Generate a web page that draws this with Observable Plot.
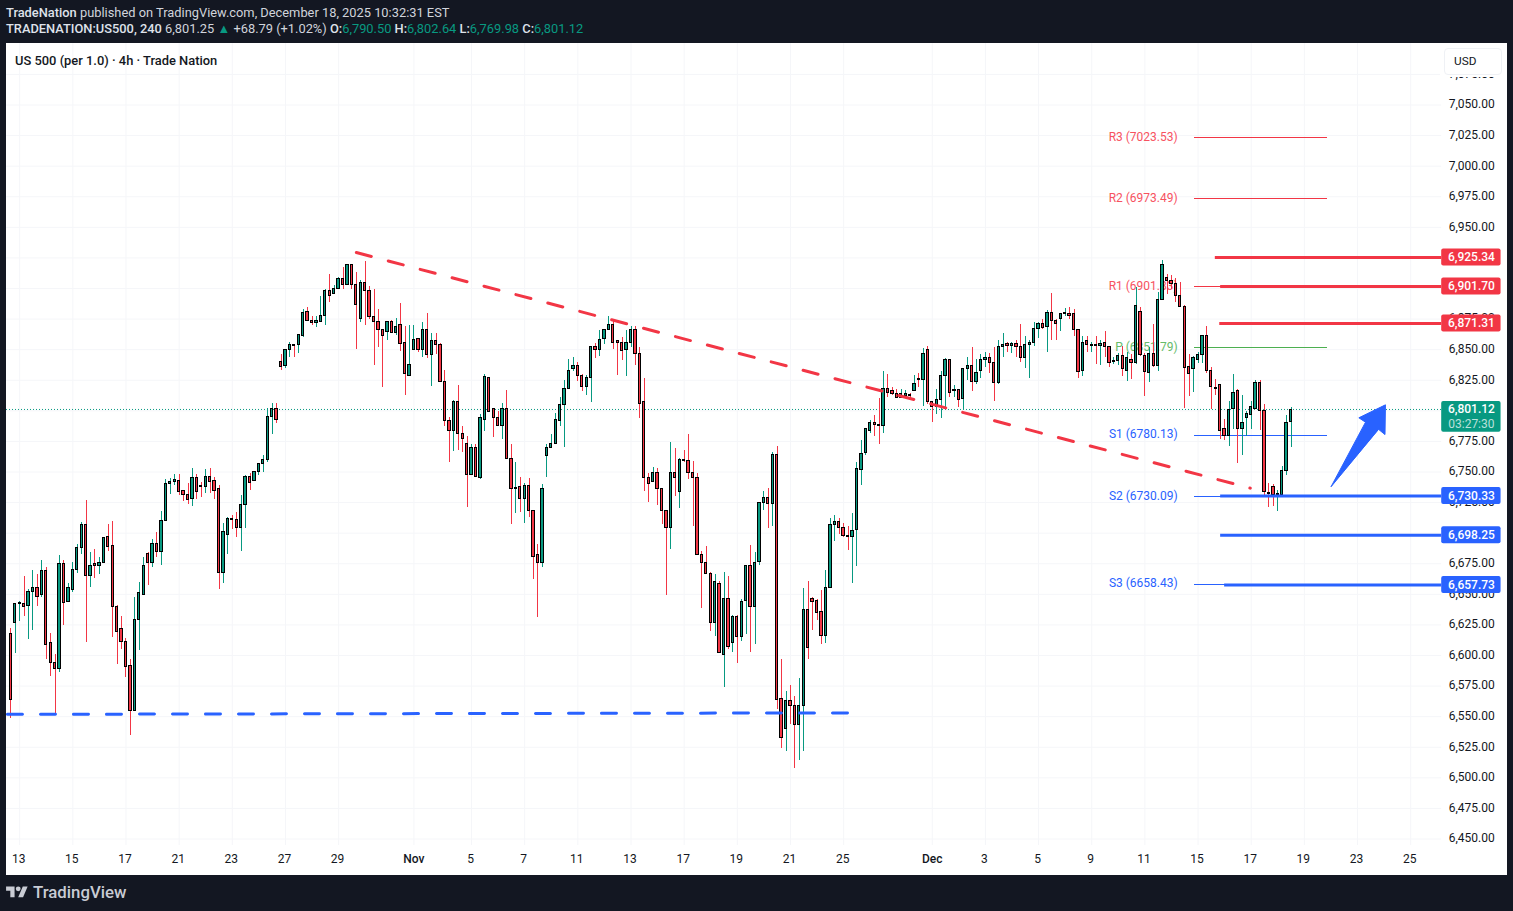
<!DOCTYPE html>
<html>
<head>
<meta charset="utf-8">
<script src="https://cdn.jsdelivr.net/npm/d3@7"></script>
<script src="https://cdn.jsdelivr.net/npm/@observablehq/plot@0.6"></script>
<style>
html,body{margin:0;padding:0;background:#131722;width:1513px;height:911px;overflow:hidden;font-family:Roboto,sans-serif}
#head{position:absolute;left:6px;top:5px;color:#d1d4dc;font-size:12.85px;line-height:16px;white-space:nowrap}
#head b{font-weight:500;color:#dfe2ea}
#head .v{color:#089981}
#chart{position:absolute;left:6px;top:43px;width:1501px;height:832px;background:#fff}
#chart svg{display:block}
#title{position:absolute;left:15px;top:52px;font-size:12.9px;line-height:17px;font-weight:500;color:#131722}
#cover{position:absolute;left:1440px;top:46px;width:66px;height:31px;background:#fff}
#usd{position:absolute;left:1444px;top:48px;width:56px;height:25px;border:1px solid #eff1f5;border-radius:4px;background:#fff;color:#131722;font-size:11.8px;line-height:25px;text-indent:9px}
#logo{position:absolute;left:6px;top:883px;height:18px;display:flex;align-items:center;gap:5px;color:#c9ccd4;font-size:16.8px;font-weight:500}
</style>
</head>
<body>
<div id="head">
<div><b>TradeNation</b> published on TradingView.com, December 18, 2025 10:32:31 EST</div>
<div><b>TRADENATION:US500, 240</b> 6,801.25 <span class="v">▲</span> +68.79 (+1.02%) <b>O:</b><span class="v">6,790.50</span> <b>H:</b><span class="v">6,802.64</span> <b>L:</b><span class="v">6,769.98</span> <b>C:</b><span class="v">6,801.12</span></div>
</div>
<div id="chart"></div>
<div id="title">US 500 (per 1.0) · 4h · Trade Nation</div>
<div id="cover"></div>
<div id="usd">USD</div>
<div id="logo"><svg width="22" height="17" viewBox="0 0 36 28"><path fill="#c9ccd4" d="M14 22H7V11H0V4h14v18zM28 22h-8l7.5-18h8L28 22z"/><circle fill="#c9ccd4" cx="20" cy="8" r="4"/></svg><span>TradingView</span></div>
<script>
const highs = [
6621,6641,6643,6664,6653,6669,6665,6677,6671,6617,
6600,6681,6677,6658,6675,6690,6708,6726,6683,6686,
6679,6696,6706,6709,6640,6631,6613,6596,6647,6659,
6679,6683,6694,6700,6717,6743,6744,6747,6747,6734,
6740,6752,6747,6741,6751,6752,6745,6738,6707,6712,
6714,6716,6730,6746,6748,6750,6756,6763,6801,6805,
6805,6845,6849,6855,6853,6861,6882,6884,6876,6876,
6893,6898,6911,6902,6908,6916,6918,6919,6912,6906,
6921,6901,6898,6882,6866,6872,6873,6875,6887,6868,
6869,6869,6858,6871,6879,6862,6862,6854,6832,6794,
6808,6820,6786,6778,6772,6772,6796,6829,6826,6801,
6799,6805,6816,6772,6757,6745,6740,6744,6718,6690,
6739,6772,6780,6797,6810,6824,6841,6843,6839,6829,
6828,6852,6854,6865,6866,6876,6874,6856,6859,6865,
6868,6868,6851,6826,6748,6753,6752,6735,6717,6773,
6768,6760,6767,6780,6758,6748,6684,6688,6667,6665,
6660,6667,6664,6632,6632,6645,6673,6689,6683,6724,
6733,6736,6765,6770,6596,6570,6575,6566,6580,6654,
6660,6647,6645,6652,6669,6711,6714,6711,6707,6705,
6715,6757,6775,6784,6791,6795,6809,6831,6829,6818,
6817,6817,6816,6813,6828,6830,6850,6852,6807,6817,
6831,6842,6841,6820,6817,6834,6843,6851,6841,6845,
6847,6846,6851,6857,6862,6855,6855,6857,6870,6860,
6857,6871,6871,6874,6881,6895,6874,6879,6883,6884,
6882,6865,6860,6860,6855,6860,6857,6864,6851,6843,
6846,6852,6847,6845,6900,6884,6846,6851,6870,6896,
6922,6911,6910,6907,6904,6885,6845,6844,6847,6861,
6868,6835,6825,6820,6792,6807,6829,6817,6812,6799,
6807,6824,6824,6804,6740,6739,6734,6754,6795,6802];
const lows = [
6548,6601,6627,6631,6612,6620,6639,6647,6596,6582,
6551,6585,6624,6643,6651,6666,6682,6610,6655,6662,
6665,6675,6684,6614,6592,6604,6581,6534,6554,6603,
6649,6656,6671,6679,6673,6709,6731,6738,6730,6725,
6723,6721,6727,6728,6732,6732,6727,6653,6658,6682,
6702,6696,6684,6703,6734,6742,6746,6749,6757,6780,
6789,6832,6834,6843,6843,6846,6859,6873,6869,6867,
6872,6869,6888,6894,6899,6898,6902,6898,6849,6871,
6869,6874,6836,6851,6818,6857,6862,6861,6848,6812,
6828,6849,6847,6843,6842,6819,6845,6823,6786,6757,
6766,6767,6765,6720,6747,6745,6743,6782,6798,6777,
6786,6776,6760,6706,6715,6716,6707,6712,6661,6630,
6671,6745,6769,6772,6786,6769,6817,6831,6823,6815,
6812,6806,6842,6844,6853,6865,6849,6828,6840,6827,
6851,6836,6793,6733,6724,6741,6722,6706,6648,6686,
6729,6719,6757,6743,6705,6681,6638,6665,6619,6615,
6601,6573,6604,6602,6593,6611,6616,6602,6608,6673,
6718,6703,6705,6555,6523,6521,6543,6507,6513,6521,
6596,6620,6628,6608,6609,6654,6692,6698,6696,6685,
6658,6672,6738,6763,6781,6778,6772,6781,6810,6812,
6809,6809,6811,6809,6815,6818,6803,6804,6790,6796,
6793,6802,6810,6810,6802,6800,6824,6815,6821,6826,
6835,6830,6807,6821,6843,6847,6846,6843,6839,6834,
6826,6852,6858,6866,6847,6857,6857,6864,6876,6874,
6860,6826,6827,6847,6847,6837,6836,6843,6835,6837,
6836,6827,6823,6825,6837,6844,6811,6822,6835,6831,
6889,6894,6898,6888,6884,6801,6811,6814,6838,6838,
6830,6800,6812,6776,6775,6770,6784,6756,6763,6778,
6784,6801,6783,6729,6720,6721,6717,6730,6746,6769];
const opens = [
6617,6626,6641,6641,6640,6651,6654,6649,6668,6609,
6593,6588,6674,6643,6653,6669,6687,6706,6664,6674,
6672,6675,6696,6689,6639,6621,6610,6591,6554,6628,
6649,6682,6675,6690,6684,6709,6739,6741,6742,6734,
6730,6727,6744,6738,6737,6745,6742,6735,6667,6698,
6711,6710,6703,6722,6745,6742,6749,6756,6759,6794,
6801,6839,6836,6849,6853,6853,6860,6880,6873,6871,
6872,6877,6897,6895,6899,6907,6902,6918,6902,6874,
6904,6897,6876,6872,6865,6864,6872,6863,6869,6855,
6828,6849,6858,6849,6865,6845,6856,6853,6823,6791,
6783,6806,6780,6772,6747,6769,6744,6792,6826,6801,
6793,6787,6801,6760,6735,6737,6727,6738,6717,6681,
6675,6762,6769,6772,6791,6804,6817,6833,6836,6828,
6819,6826,6851,6849,6858,6865,6869,6856,6855,6849,
6855,6865,6846,6806,6744,6741,6748,6735,6717,6703,
6748,6733,6759,6758,6748,6744,6681,6675,6666,6626,
6658,6600,6645,6609,6631,6614,6644,6672,6639,6676,
6724,6728,6723,6763,6564,6539,6562,6558,6542,6558,
6636,6645,6644,6635,6615,6654,6706,6708,6703,6697,
6696,6702,6751,6765,6783,6789,6788,6787,6817,6815,
6813,6810,6811,6812,6815,6825,6824,6849,6806,6802,
6808,6828,6841,6815,6816,6809,6833,6836,6823,6832,
6841,6842,6838,6822,6851,6854,6852,6854,6851,6842,
6853,6855,6866,6870,6868,6879,6873,6874,6878,6878,
6878,6865,6832,6856,6852,6853,6852,6855,6851,6839,
6840,6844,6832,6841,6838,6880,6844,6830,6846,6836,
6890,6908,6905,6903,6893,6884,6835,6833,6841,6845,
6860,6832,6818,6820,6784,6779,6801,6815,6784,6793,
6796,6801,6822,6799,6732,6737,6730,6730,6750,6790];
const closes = [
6563,6641,6642,6639,6651,6654,6647,6668,6608,6593,
6588,6674,6642,6654,6669,6687,6706,6664,6672,6672,
6675,6695,6688,6639,6618,6610,6590,6554,6628,6650,
6672,6675,6690,6684,6709,6739,6741,6743,6733,6730,
6726,6744,6733,6737,6745,6741,6734,6667,6700,6711,
6710,6703,6722,6745,6740,6749,6756,6759,6794,6801,
6792,6835,6849,6853,6852,6861,6879,6873,6871,6873,
6877,6897,6893,6899,6907,6902,6918,6902,6886,6904,
6897,6876,6872,6865,6860,6872,6863,6868,6854,6829,
6837,6857,6849,6865,6845,6856,6853,6823,6791,6783,
6806,6780,6776,6747,6769,6745,6793,6827,6798,6793,
6787,6801,6760,6735,6736,6727,6738,6717,6680,6675,
6735,6769,6772,6792,6804,6817,6832,6836,6828,6819,
6826,6851,6849,6857,6865,6869,6855,6855,6848,6855,
6865,6846,6805,6744,6739,6748,6735,6717,6703,6748,
6744,6759,6758,6748,6744,6681,6675,6666,6626,6659,
6601,6645,6606,6631,6614,6643,6672,6639,6675,6724,
6728,6723,6763,6563,6532,6562,6558,6542,6558,6636,
6605,6643,6634,6615,6654,6706,6708,6703,6697,6696,
6701,6752,6764,6784,6789,6788,6787,6817,6814,6813,
6810,6813,6813,6811,6821,6824,6846,6806,6802,6808,
6828,6841,6814,6816,6808,6833,6836,6823,6830,6841,
6842,6838,6822,6851,6853,6852,6854,6851,6842,6853,
6855,6866,6870,6867,6879,6873,6870,6878,6879,6877,
6865,6831,6855,6853,6853,6852,6854,6851,6838,6840,
6844,6833,6842,6838,6885,6845,6831,6846,6836,6890,
6918,6905,6903,6893,6884,6834,6829,6842,6845,6860,
6832,6819,6817,6783,6779,6800,6814,6784,6789,6797,
6802,6822,6799,6733,6731,6730,6731,6750,6789,6800];

const priceTicks = d3.range(6450, 7100, 25);
const dayTickIdx = [2,14,26,38,50,62,74,104,116,128,140,152,164,176,188,220,232,244,256,268,280,292,304,316];
const dayTickLabels = ["13","15","17","21","23","27","29","5","7","11","13","17","19","21","25","3","5","9","11","15","17","19","23","25"];
const monthTickIdx = [91,208];
const monthTickLabels = ["Nov","Dec"];

const pivotNames = ["R3","R2","R1","P","S1","S2","S3"];
const pivotValues = [7023.53,6973.49,6901.83,6851.79,6780.13,6730.09,6658.43];
const pivotColors = ["#f23645","#f23645","#f23645","#4caf50","#2962ff","#2962ff","#2962ff"];
const pivotTextColors = ["#f7525f","#f7525f","#f7525f","#66bb6a","#2962ff","#2962ff","#2962ff"];

const levelValues = [6925.34,6901.70,6871.31,6730.33,6698.25,6657.73];
const levelStarts = [271.9,273.1,272.9,273.1,273.1,274];
const levelColors = ["#f23645","#f23645","#f23645","#2962ff","#2962ff","#2962ff"];

const lastPrice = 6801.12;
const countdown = "03:27:30";
const redTrendX = [78,279.8];
const redTrendY = [6929.4,6736.8];
const blueSupportX = [-0.75,189.1];
const blueSupportY = [6551.9,6553.1];
const arrowX = [298.06,305.8,304.3,310.3,310.2,308.8];
const arrowY = [6738.2,6790.7,6794.3,6804.9,6780.6,6784.7];

const UP = "#089981", DOWN = "#f23645";
const candles = d3.range(highs.length).map(i => ({i, o: opens[i], h: highs[i], l: lows[i], c: closes[i]}));
const pivots = pivotValues.map((v,i) => ({v, name: pivotNames[i], s: pivotColors[i], t: pivotTextColors[i]}));
const levels = levelValues.map((v,i) => ({v, x1: levelStarts[i], s: levelColors[i]}));
const col = d => d.c >= d.o ? UP : DOWN;
const fmt = d3.format(",.2f");
const FONT = "Roboto, sans-serif";
const pxY = 1.22333; // pixels per price point

const plot = Plot.plot({
  width: 1501, height: 832,
  marginLeft: 0, marginTop: 0, marginRight: 65.8, marginBottom: 30,
  style: {background: "#fff", fontFamily: FONT, overflow: "hidden"},
  color: {type: "identity"},
  x: {domain: [0, 323], range: [4.3, 1435.2], axis: null},
  y: {domain: [7050, 6450], range: [61.5, 795.5], axis: null},
  marks: [
    Plot.gridX([...dayTickIdx, ...monthTickIdx], {stroke: "#f5f6f9", strokeOpacity: 1, strokeWidth: 1}),
    Plot.gridY(priceTicks, {stroke: "#f5f6f9", strokeOpacity: 1, strokeWidth: 1}),
    Plot.axisY(priceTicks, {anchor: "right", tickSize: 0, tickPadding: 7, tickFormat: fmt, label: null, fontSize: 12, fill: "#131722", dy: -0.5}),
    Plot.axisX(dayTickIdx, {anchor: "bottom", tickSize: 0, tickPadding: 9, tickFormat: i => dayTickLabels[dayTickIdx.indexOf(i)], label: null, fontSize: 12, fill: "#131722", dx: -1}),
    Plot.axisX(monthTickIdx, {anchor: "bottom", tickSize: 0, tickPadding: 9, tickFormat: i => monthTickLabels[monthTickIdx.indexOf(i)], label: null, fontSize: 12, fontWeight: 500, fill: "#131722"}),
    Plot.ruleY(pivots, {y: "v", x1: 267.2, x2: 297.2, stroke: "s", strokeWidth: 1, shapeRendering: "crispEdges"}),
    Plot.text(pivots, {y: "v", x: 263.4, text: d => `${d.name} (${d.v.toFixed(2)})`, fill: "t", textAnchor: "end", fontSize: 12, dy: -0.5}),
    Plot.ruleY([lastPrice], {x1: -0.97, x2: 323, stroke: UP, strokeWidth: 1, strokeDasharray: "1,2"}),
    Plot.ruleX(candles, {x: "i", y1: "l", y2: "h", stroke: col, strokeWidth: 1, shapeRendering: "crispEdges", dy: -1}),
    Plot.rect(candles, {x1: d => d.i - 0.26, x2: d => d.i + 0.26, y1: d => Math.min(d.o, d.c), y2: d => Math.max(d.o, d.c), fill: col, stroke: "#000", strokeWidth: 1, shapeRendering: "crispEdges", dy: -1}),
    Plot.line(redTrendX.map((x,i) => ({x, y: redTrendY[i]})), {x: "x", y: "y", stroke: "#f23645", strokeWidth: 3, strokeDasharray: "15.5,17.5"}),
    Plot.line(blueSupportX.map((x,i) => ({x, y: blueSupportY[i]})), {x: "x", y: "y", stroke: "#2962ff", strokeWidth: 3, strokeDasharray: "15,18"}),
    Plot.ruleY(levels, {y: "v", x1: "x1", x2: 323, stroke: "s", strokeWidth: 3}),
    Plot.line(arrowX.map((x,i) => ({x, y: arrowY[i]})), {x: "x", y: "y", fill: "#2962ff", stroke: "#2962ff", strokeWidth: 1, curve: "linear-closed"}),
    Plot.rect(levels, {x1: 323, x2: 336.4, y1: d => d.v - 8.5/pxY, y2: d => d.v + 8.5/pxY, fill: "s", rx: 2}),
    Plot.text(levels, {x: 329.7, y: "v", text: d => fmt(d.v), fill: "#fff", fontSize: 12, fontWeight: 500}),
    Plot.rect([lastPrice], {x1: 323, x2: 336.4, y1: d => d - 22.7/pxY, y2: d => d + 8/pxY, fill: UP, rx: 2}),
    Plot.text([lastPrice], {x: 329.7, y: d => d, text: d => fmt(d), fill: "#fff", fontSize: 12, fontWeight: 500}),
    Plot.text([lastPrice], {x: 329.7, y: d => d - 14.5/pxY, text: () => countdown, fill: "#fff", fillOpacity: 0.72, fontSize: 12})
  ]
});
document.getElementById("chart").append(plot);
</script>
</body>
</html>
